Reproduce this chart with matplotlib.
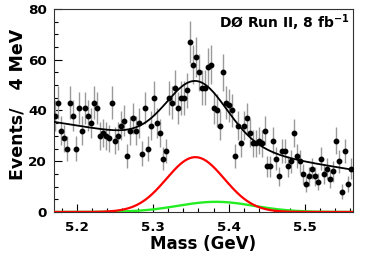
import numpy as np
import matplotlib
matplotlib.use("Agg")
import matplotlib.pyplot as plt
from matplotlib.ticker import MultipleLocator

# events per 4 MeV bin (100 bins)
counts = [38, 43, 32, 29, 25, 43, 38, 25, 41, 32,
          41, 38, 35, 43, 41, 30, 31, 30, 29, 43,
          28, 30, 34, 36, 22, 32, 37, 32, 35, 23,
          41, 25, 34, 45, 35, 31, 21, 24, 45, 43,
          49, 41, 45, 45, 48, 67, 58, 61, 55, 49,
          49, 57, 58, 41, 40, 34, 55, 43, 42, 40,
          22, 34, 27, 34, 37, 31, 27, 27, 28, 27,
          32, 18, 18, 28, 21, 14, 24, 24, 18, 20,
          31, 22, 20, 15, 11, 14, 17, 14, 12, 21,
          15, 17, 13, 16, 28, 20, 8, 24, 11, 17]
mass_first, mass_last = 5.1715, 5.5611

# fit components
bkg_at_start, bkg_slope = 35.5, -48.0       # linear background from 5.17
red_amp, red_mean, red_sigma = 21.6, 5.356, 0.038
green_amp, green_mean, green_sigma = 4.0, 5.383, 0.05

x_ticks = [5.2, 5.3, 5.4, 5.5]
y_ticks = [0, 20, 40, 60, 80]

mass = np.linspace(mass_first, mass_last, len(counts))
counts = np.array(counts, dtype=float)
errors = np.sqrt(counts)

m = np.linspace(5.17, 5.563, 400)
red = red_amp * np.exp(-0.5 * ((m - red_mean) / red_sigma) ** 2)
green = green_amp * np.exp(-0.5 * ((m - green_mean) / green_sigma) ** 2)
total = bkg_at_start + bkg_slope * (m - 5.17) + red + green

fig = plt.figure(figsize=(3.74, 2.56), dpi=100)
ax = fig.add_axes([0.1444, 0.172, 0.7986, 0.793])

ax.errorbar(mass, counts, yerr=errors, fmt="none", ecolor="#9a9a9a",
            elinewidth=1.0, capsize=0, zorder=2)
ax.plot(mass, counts, "o", color="black", ms=3.2, zorder=3)
ax.plot(m, green, color="#22ee22", lw=1.7, zorder=4)
ax.plot(m, red, color="#ff0000", lw=1.6, zorder=5)
ax.plot(m, total, color="black", lw=1.3, zorder=6)

ax.set_xlim(5.17, 5.563)
ax.set_ylim(0, 80)
ax.set_xticks(x_ticks)
ax.set_yticks(y_ticks)
ax.xaxis.set_minor_locator(MultipleLocator(0.02))
ax.yaxis.set_minor_locator(MultipleLocator(5))
ax.tick_params(which="both", direction="in", top=False, right=False)
ax.tick_params(which="major", length=5.5, width=0.8)
ax.tick_params(which="minor", length=3, width=0.8)
ax.tick_params(axis="x", pad=6.5)
ax.tick_params(axis="y", pad=5)
for lab in ax.get_xticklabels() + ax.get_yticklabels():
    lab.set_fontweight("bold")
    lab.set_fontsize(9.7)
for sp in ax.spines.values():
    sp.set_linewidth(0.8)
    sp.set_color("#333333")

ax.set_xlabel("Mass (GeV)", fontsize=12, fontweight="bold", labelpad=1)
fig.text(18 / 374, 1 - 104 / 256, "Events/   4 MeV", rotation=90,
         ha="center", va="center", fontsize=12.5, fontweight="bold")

ax.text(0.991, 0.906, r"DØ Run II, 8 fb$^{\mathbf{-1}}$", transform=ax.transAxes,
        ha="right", va="baseline", fontsize=10, fontweight="bold")

fig.savefig("out.png", dpi=100)
